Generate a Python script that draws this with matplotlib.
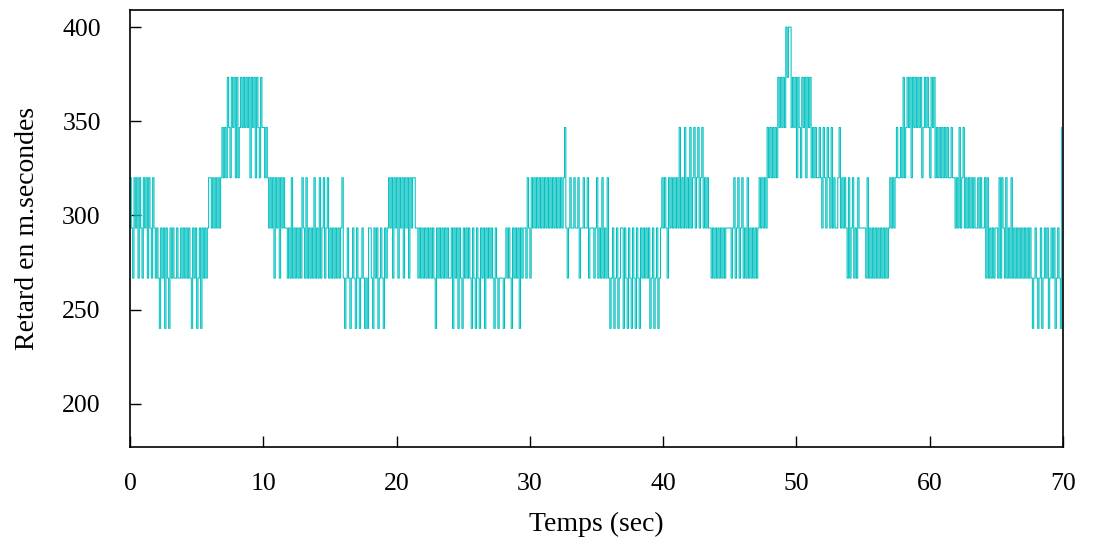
import numpy as np
import matplotlib
matplotlib.use('Agg')
import matplotlib.pyplot as plt

plt.rcParams['font.family'] = ['Liberation Serif', 'DejaVu Serif']
plt.rcParams['font.size'] = 18

# quantised delay levels (ms)
levels = [240.0, 266.7, 293.3, 320.0, 346.7, 373.3, 400.0]

# sample spacing (s) and level index of each sample, one string per second
dt = 0.1
rows = [
    "3213231321", "3231321321", "2102120210", "2121121121", "2121210212",
    "0120212123", "3232323234", "3435435453", "5345454545", "3545354354",
    "4343232313", "2313232212", "1312121213", "2131212131", "2131231231",
    "2121212123", "1012101210", "2101210102", "2102120121", "0212323132",
    "3132313231", "3233221212", "1212121210", "2121212121", "1202120210",
    "2121210210", "2102120212", "1210210111", "0121210212", "1202122132",
    "1323232323", "2323232323", "2323234212", "3223223122", "3223122212",
    "3121312131", "0120120122", "0210210210", "2102121212", "0120120123",
    "2321323232", "3242324232", "4234234234", "2323221212", "1212121222",
    "2123123123", "1213121212", "1232323243", "4343435454", "5465664545",
    "3543545354", "5343433432", "4324324232", "2342323213", "1231213222",
    "2213121212", "1212121212", "3232343343", "5345453545", "4545345454",
    "3545343434", "3434334332", "3242342323", "2323223232", "2313121212",
    "2131321312", "1312121212", "1212121012", "1012012120", "1212012104",
]

xticks = [0, 10, 20, 30, 40, 50, 60, 70]
yticks = [200, 250, 300, 350, 400]

idx = [int(c) for c in "".join(rows)]
retard = np.array([levels[i] for i in idx])
temps = np.arange(len(retard)) * dt

fig = plt.figure(figsize=(10.96, 5.42), dpi=100)
ax = fig.add_axes([0.1186, 0.1753, 0.8513, 0.806])

ax.plot(temps, retard, color='#00c0c0', linewidth=0.75, drawstyle='steps-post')

ax.set_xlim(0, 70)
ax.set_ylim(177, 409)
ax.set_xticks(xticks)
ax.set_yticks(yticks)
ax.tick_params(direction='in', length=8, width=1, top=False, right=False,
               labelsize=18.5)
ax.tick_params(axis='y', pad=21)
ax.tick_params(axis='x', pad=19)
for s in ax.spines.values():
    s.set_linewidth(1.2)

ax.set_xlabel('Temps (sec)', fontsize=20, labelpad=12)
ax.set_ylabel('Retard en m.secondes', fontsize=20, labelpad=16)

fig.savefig('out.png', dpi=100)
